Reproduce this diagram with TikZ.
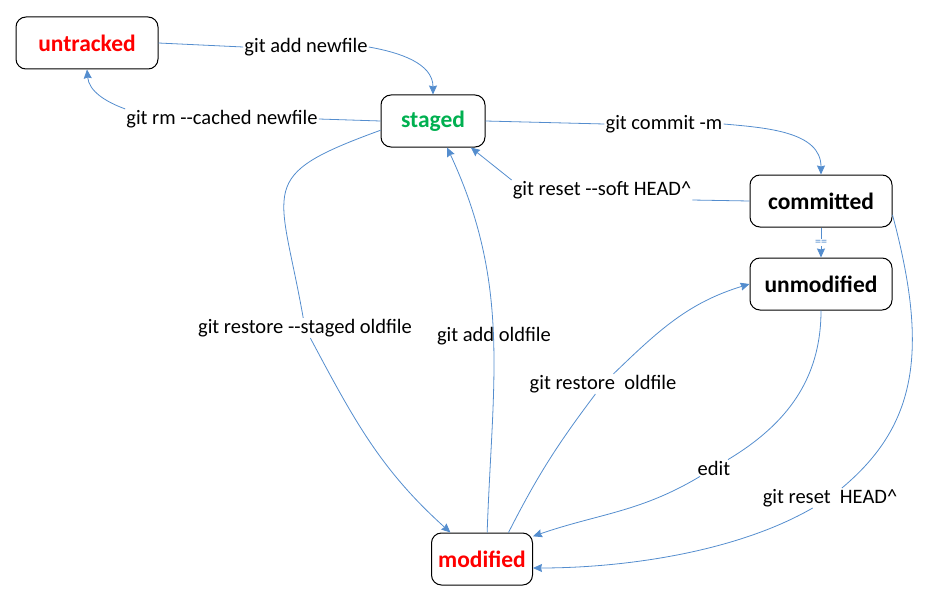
\documentclass[tikz,border=0pt]{standalone}
\usepackage{fontspec}
\setmainfont{Carlito}
\usetikzlibrary{arrows.meta}

\definecolor{flowBlue}{RGB}{84,141,206}
\definecolor{stateRed}{RGB}{255,0,0}
\definecolor{stateGreen}{RGB}{0,176,80}

\tikzset{
    stateBox/.style = {draw, rounded corners = 3.5mm, line width = 1pt,
        minimum height = 52pt, font = \fontsize{23.5}{27}\selectfont\bfseries},
    gitLabel/.style = {fill = white, inner sep = 1pt,
        font = \fontsize{20.5}{24}\selectfont},
    eqLabel/.style = {fill = white, inner sep = 0.5pt,
        font = \fontsize{12}{12}\selectfont},
    gitLine/.style = {flowBlue, line width = 0.8pt},
    gitArrow/.style = {gitLine, -{Stealth[length = 9pt, width = 8pt, inset = 1pt]}},
}

\begin{document}
\begin{tikzpicture}[x = 1pt, y = 1pt]

    \useasboundingbox (0,0) rectangle (938,-594);

    %% Drawing the states
    \node [stateBox, minimum width = 142pt, text = stateRed]   (untracked)  at (87,-43)  {untracked};
    \node [stateBox, minimum width = 104pt, text = stateGreen] (staged)     at (433,-121) {staged};
    \node [stateBox, minimum width = 142pt]                    (committed)  at (821,-201) {committed};
    \node [stateBox, minimum width = 142pt]                    (unmodified) at (821,-284) {unmodified};
    \node [stateBox, minimum width = 101pt, text = stateRed]   (modified)   at (482,-559) {modified};

    %% Drawing the command labels
    \node [gitLabel] (addNew)        at (306,-47)  {git add newfile};
    \node [gitLabel] (rmCached)      at (222,-119) {git rm -{}-cached newfile};
    \node [gitLabel] (commitM)       at (664,-124) {git commit -m};
    \node [gitLabel] (resetSoft)     at (602,-190) {git reset -{}-soft HEAD\textasciicircum};
    \node [gitLabel] (restoreStaged) at (305,-328) {git restore -{}-staged oldfile};
    \node [gitLabel, fill = none] (addOld) at (494,-336) {git add oldfile};
    \node [gitLabel] (restoreOld)    at (603,-384) {git restore\ \ oldfile};
    \node [gitLabel] (editLbl)       at (714,-468) {edit};
    \node [gitLabel] (resetHead)     at (830,-498) {git reset\ \ HEAD\textasciicircum};

    %% untracked <-> staged
    \draw [gitLine] (untracked.east) -- (addNew.west);
    \draw [gitArrow] (addNew.east) to [out = -10, in = 90] (staged.north);

    \draw [gitLine] (staged.west) -- (rmCached.east);
    \draw [gitArrow] (rmCached.north west) to [out = 160, in = -85] (untracked.south);

    %% staged <-> committed
    \draw [gitLine] (staged.east) -- (commitM.west);
    \draw [gitArrow] (commitM.east) to [out = -5, in = 90] (committed.north);

    \draw [gitLine] (committed.west) -- (resetSoft.south east);
    \draw [gitArrow] (resetSoft.north west) -- (staged.-35);

    %% committed == unmodified
    \draw [gitArrow] (committed) -- node [eqLabel] {==} (unmodified);

    %% staged <-> modified
    \draw [gitLine] (staged.190) to [out = 200, in = 100, looseness = 1.7] (restoreStaged);
    \draw [gitArrow] (restoreStaged) to [out = -62, in = 138] (modified.140);

    \draw [gitArrow] (modified.79) to [out = 88, in = -65] (staged.-62);

    %% modified <-> unmodified
    \draw [gitLine] (modified.45) to [out = 63, in = -127] (restoreOld);
    \draw [gitArrow] (restoreOld) to [out = 44, in = 197] (unmodified.west);

    \draw [gitLine] (unmodified.south) to [out = -90, in = 31] (editLbl);
    \draw [gitArrow] (editLbl) to [out = 211, in = 19] (modified.24);

    %% committed -> modified
    \draw [gitLine] (committed.-11) to [out = -75, in = 40, out looseness = 1.3, in looseness = 0.9] (resetHead);
    \draw [gitArrow] (resetHead) to [out = 210, in = 0, looseness = 0.8] (modified.-10);

\end{tikzpicture}
\end{document}
